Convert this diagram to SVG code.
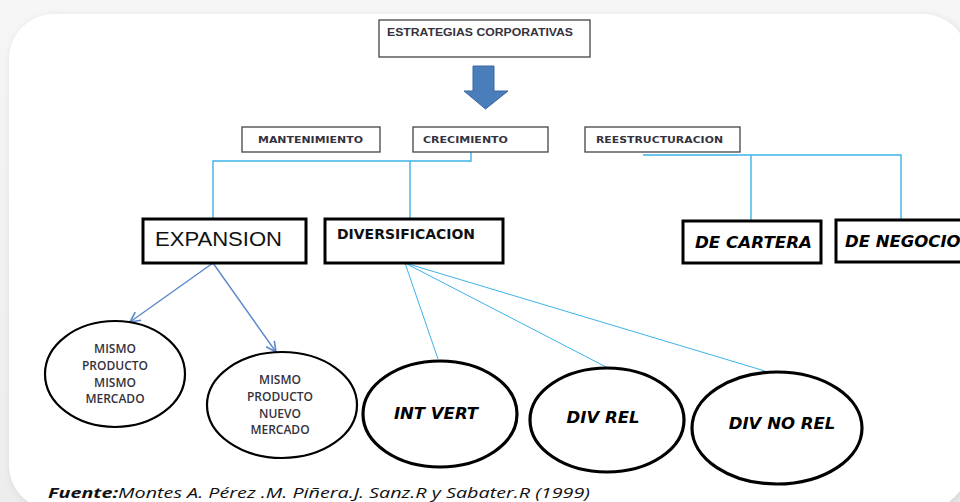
<svg xmlns="http://www.w3.org/2000/svg" width="960" height="502" viewBox="0 0 960 502">
  <defs>
    <linearGradient id="bg" x1="0" y1="0" x2="0" y2="1">
      <stop offset="0" stop-color="#f6f6f6"/>
      <stop offset="1" stop-color="#ededed"/>
    </linearGradient>
    <filter id="soft" x="-5%" y="-5%" width="110%" height="110%">
      <feGaussianBlur stdDeviation="4"/>
    </filter>
    <marker id="open" viewBox="0 0 12 12" refX="11" refY="6" markerWidth="12" markerHeight="12" markerUnits="userSpaceOnUse" orient="auto">
      <path d="M1,1 L11,6 L1,11" fill="none" stroke="#5b87c9" stroke-width="1.6"/>
    </marker>
    <style>
      .box { fill: #ffffff; stroke: #444444; stroke-width: 1.3; }
      .heavy { fill: #ffffff; stroke: #000000; stroke-width: 3; }
      .oval { fill: #ffffff; stroke: #000000; stroke-width: 2.2; }
      .oval-heavy { fill: #ffffff; stroke: #000000; stroke-width: 3.2; }
      .link { fill: none; stroke: #3db2e8; stroke-width: 1.4; }
      .fan { fill: none; stroke: #3db2e8; stroke-width: 1; }
      .branch { fill: none; stroke: #5b87c9; stroke-width: 1.4; }
      .small { font-family: "DejaVu Sans", "Liberation Sans", sans-serif; font-size: 9.5px; font-weight: bold; fill: #35323d; }
      .title { font-family: "Liberation Sans", "DejaVu Sans", sans-serif; font-size: 10px; font-weight: bold; fill: #35323d; }
      .oval-txt { font-family: "Open Sans", "DejaVu Sans", sans-serif; font-size: 12px; font-weight: 600; fill: #35323d; text-anchor: middle; }
      .big { font-family: "Liberation Sans", "DejaVu Sans", sans-serif; font-size: 21px; fill: #111111; }
      .bold { font-family: "DejaVu Sans", "Liberation Sans", sans-serif; font-size: 14px; font-weight: bold; fill: #111111; }
      .bi { font-family: "DejaVu Sans", "Liberation Sans", sans-serif; font-size: 16.5px; font-weight: bold; font-style: italic; fill: #000000; }
      .src { font-family: "Open Sans", "Liberation Sans", sans-serif; font-size: 14.5px; font-style: italic; fill: #111111; }
    </style>
  </defs>

  <!-- page and card -->
  <rect x="0" y="0" width="960" height="502" fill="url(#bg)"/>
  <rect x="11" y="17" width="959" height="496" rx="45" fill="#d6d6d6" filter="url(#soft)"/>
  <rect x="9" y="14" width="959" height="496" rx="45" fill="#ffffff"/>

  <!-- connectors -->
  <g id="connectors">
    <polyline class="link" points="471,152 471,161 213,161 213,219"/>
    <line class="link" x1="410" y1="161" x2="410" y2="219"/>
    <polyline class="link" points="643,155 901,155 901,221"/>
    <line class="link" x1="751" y1="155" x2="751" y2="221"/>
    <line class="branch" x1="213" y1="263" x2="130" y2="322" marker-end="url(#open)"/>
    <line class="branch" x1="213" y1="263" x2="276" y2="352" marker-end="url(#open)"/>
    <line class="fan" x1="405" y1="263" x2="438" y2="359"/>
    <line class="fan" x1="405" y1="263" x2="608" y2="368"/>
    <line class="fan" x1="405" y1="263" x2="765" y2="371"/>
  </g>

  <g id="estrategias">
    <rect class="box" x="379" y="20" width="211" height="37"/>
    <text class="title" x="387" y="36" textLength="186" lengthAdjust="spacingAndGlyphs">ESTRATEGIAS  CORPORATIVAS</text>
  </g>

  <g id="flecha">
    <path d="M473,66 L494,66 L494,91 L508,91 L485.5,109 L464,91 L473,91 Z" fill="#4a7ebb" stroke="#3a66a0" stroke-width="1"/>
  </g>

  <g id="mantenimiento">
    <rect class="box" x="242" y="127" width="138" height="25"/>
    <text class="small" x="258" y="143" textLength="105" lengthAdjust="spacingAndGlyphs">MANTENIMIENTO</text>
  </g>

  <g id="crecimiento">
    <rect class="box" x="413" y="127" width="135" height="25"/>
    <text class="small" x="423" y="143" textLength="85" lengthAdjust="spacingAndGlyphs">CRECIMIENTO</text>
  </g>

  <g id="reestructuracion">
    <rect class="box" x="585" y="127" width="155" height="25"/>
    <text class="small" x="596" y="143" textLength="127" lengthAdjust="spacingAndGlyphs">REESTRUCTURACION</text>
  </g>

  <g id="expansion">
    <rect class="heavy" x="143" y="219" width="163" height="44"/>
    <text class="big" x="155" y="246" textLength="127" lengthAdjust="spacingAndGlyphs">EXPANSION</text>
  </g>

  <g id="diversificacion">
    <rect class="heavy" x="325" y="219" width="178" height="44"/>
    <text class="bold" x="337" y="239" textLength="138" lengthAdjust="spacingAndGlyphs">DIVERSIFICACION</text>
  </g>

  <g id="de-cartera">
    <rect class="heavy" x="683" y="221" width="138" height="42"/>
    <text class="bi" x="695" y="248" textLength="117" lengthAdjust="spacingAndGlyphs">DE CARTERA</text>
  </g>

  <g id="de-negocio">
    <rect class="heavy" x="836" y="220" width="130" height="42"/>
    <text class="bi" x="845" y="247">DE NEGOCIO</text>
  </g>

  <g id="mismo-mismo">
    <ellipse class="oval" cx="115" cy="374" rx="70" ry="53"/>
    <text class="oval-txt" x="115" y="353">MISMO</text>
    <text class="oval-txt" x="115" y="370">PRODUCTO</text>
    <text class="oval-txt" x="115" y="387">MISMO</text>
    <text class="oval-txt" x="115" y="403">MERCADO</text>
  </g>

  <g id="mismo-nuevo">
    <ellipse class="oval" cx="282" cy="405" rx="75" ry="53"/>
    <text class="oval-txt" x="280" y="384">MISMO</text>
    <text class="oval-txt" x="280" y="401">PRODUCTO</text>
    <text class="oval-txt" x="280" y="418">NUEVO</text>
    <text class="oval-txt" x="280" y="434">MERCADO</text>
  </g>

  <g id="int-vert">
    <ellipse class="oval-heavy" cx="440" cy="414" rx="77" ry="53"/>
    <text class="bi" x="436" y="419" text-anchor="middle">INT VERT</text>
  </g>

  <g id="div-rel">
    <ellipse class="oval-heavy" cx="607" cy="420" rx="77" ry="52"/>
    <text class="bi" x="603" y="423" text-anchor="middle">DIV REL</text>
  </g>

  <g id="div-no-rel">
    <ellipse class="oval-heavy" cx="777" cy="428" rx="85" ry="56"/>
    <text class="bi" x="782" y="429" text-anchor="middle">DIV NO REL</text>
  </g>

  <text class="src" x="48" y="498" textLength="542" lengthAdjust="spacingAndGlyphs"><tspan font-weight="bold">Fuente:</tspan>Montes A. Pérez .M. Piñera.J. Sanz.R y Sabater.R (1999)</text>
</svg>
